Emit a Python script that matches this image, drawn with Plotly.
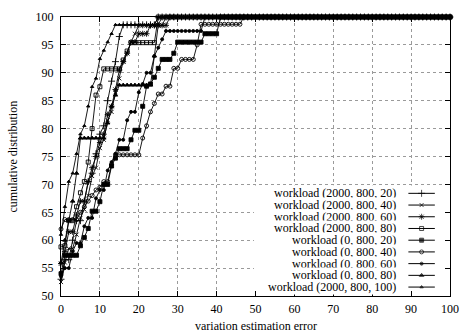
import plotly.graph_objects as go

# error bins (percent), one CDF sample per bin
ERROR = list(range(101))

NAMES = [
    "workload (2000, 800, 20)",
    "workload (2000, 800, 40)",
    "workload (2000, 800, 60)",
    "workload (2000, 800, 80)",
    "workload (0, 800, 20)",
    "workload (0, 800, 40)",
    "workload (0, 800, 60)",
    "workload (0, 800, 80)",
    "workload (2000, 800, 100)",
]

W2000_20 = [
    53.0, 56.5, 56.5, 60.0, 63.5, 63.5, 67.0, 70.5, 72.0, 75.5,
    79.0, 80.5, 85.0, 88.5, 92.0, 96.5, 98.6, 98.6, 98.6, 98.6,
    98.6, 98.6, 98.6, 98.6, 98.6, 100, 100, 100, 100, 100,
    100, 100, 100, 100, 100, 100, 100, 100, 100, 100,
    100, 100, 100, 100, 100, 100, 100, 100, 100, 100,
    100, 100, 100, 100, 100, 100, 100, 100, 100, 100,
    100, 100, 100, 100, 100, 100, 100, 100, 100, 100,
    100, 100, 100, 100, 100, 100, 100, 100, 100, 100,
    100, 100, 100, 100, 100, 100, 100, 100, 100, 100,
    100, 100, 100, 100, 100, 100, 100, 100, 100, 100,
    100,
]
W2000_40 = [
    52.5, 56.0, 58.5, 58.5, 61.0, 64.0, 65.5, 68.0, 71.5, 73.0,
    76.5, 78.0, 81.5, 83.0, 86.5, 89.0, 92.0, 93.5, 95.5, 97.0,
    98.5, 98.5, 98.5, 98.5, 98.5, 98.5, 98.5, 100, 100, 100,
    100, 100, 100, 100, 100, 100, 100, 100, 100, 100,
    100, 100, 100, 100, 100, 100, 100, 100, 100, 100,
    100, 100, 100, 100, 100, 100, 100, 100, 100, 100,
    100, 100, 100, 100, 100, 100, 100, 100, 100, 100,
    100, 100, 100, 100, 100, 100, 100, 100, 100, 100,
    100, 100, 100, 100, 100, 100, 100, 100, 100, 100,
    100, 100, 100, 100, 100, 100, 100, 100, 100, 100,
    100,
]
W2000_60 = [
    55.8, 58.0, 61.5, 61.5, 64.5, 67.0, 67.0, 70.5, 73.0, 75.0,
    77.5, 79.0, 82.5, 84.0, 87.0, 90.5, 92.0, 93.5, 95.5, 95.5,
    97.0, 97.0, 97.0, 98.5, 98.5, 98.5, 98.5, 98.5, 100, 100,
    100, 100, 100, 100, 100, 100, 100, 100, 100, 100,
    100, 100, 100, 100, 100, 100, 100, 100, 100, 100,
    100, 100, 100, 100, 100, 100, 100, 100, 100, 100,
    100, 100, 100, 100, 100, 100, 100, 100, 100, 100,
    100, 100, 100, 100, 100, 100, 100, 100, 100, 100,
    100, 100, 100, 100, 100, 100, 100, 100, 100, 100,
    100, 100, 100, 100, 100, 100, 100, 100, 100, 100,
    100,
]
W2000_80 = [
    58.8, 59.0, 63.5, 63.5, 66.0, 68.5, 70.5, 74.0, 80.0, 86.0,
    87.5, 90.7, 90.7, 90.7, 90.7, 90.7, 92.3, 93.9, 95.4, 95.4,
    95.4, 95.4, 95.4, 95.4, 95.4, 100, 100, 100, 100, 100,
    100, 100, 100, 100, 100, 100, 100, 100, 100, 100,
    100, 100, 100, 100, 100, 100, 100, 100, 100, 100,
    100, 100, 100, 100, 100, 100, 100, 100, 100, 100,
    100, 100, 100, 100, 100, 100, 100, 100, 100, 100,
    100, 100, 100, 100, 100, 100, 100, 100, 100, 100,
    100, 100, 100, 100, 100, 100, 100, 100, 100, 100,
    100, 100, 100, 100, 100, 100, 100, 100, 100, 100,
    100,
]
W0_20 = [
    54.0, 57.3, 57.3, 57.3, 57.3, 59.0, 60.5, 62.1, 65.2, 65.2,
    66.9, 70.0, 70.0, 73.3, 74.7, 76.4, 76.4, 76.4, 78.0, 79.7,
    79.7, 84.0, 87.6, 88.0, 89.2, 90.8, 92.4, 92.4, 92.4, 93.5,
    95.5, 95.5, 95.5, 95.5, 95.5, 95.5, 95.5, 97.0, 97.0, 97.0,
    97.0, 100, 100, 100, 100, 100, 100, 100, 100, 100,
    100, 100, 100, 100, 100, 100, 100, 100, 100, 100,
    100, 100, 100, 100, 100, 100, 100, 100, 100, 100,
    100, 100, 100, 100, 100, 100, 100, 100, 100, 100,
    100, 100, 100, 100, 100, 100, 100, 100, 100, 100,
    100, 100, 100, 100, 100, 100, 100, 100, 100, 100,
    100,
]
W0_40 = [
    62.0, 63.7, 63.7, 63.7, 63.7, 65.0, 66.0, 67.0, 68.0, 69.0,
    69.5, 70.5, 70.5, 73.6, 75.3, 75.3, 75.3, 75.3, 75.3, 75.3,
    75.3, 78.3, 80.5, 83.0, 84.5, 86.2, 86.2, 87.6, 87.6, 90.8,
    90.8, 92.4, 92.4, 92.4, 92.4, 95.0, 98.7, 98.7, 98.7, 98.7,
    98.7, 98.7, 98.7, 98.7, 98.7, 98.7, 98.7, 100, 100, 100,
    100, 100, 100, 100, 100, 100, 100, 100, 100, 100,
    100, 100, 100, 100, 100, 100, 100, 100, 100, 100,
    100, 100, 100, 100, 100, 100, 100, 100, 100, 100,
    100, 100, 100, 100, 100, 100, 100, 100, 100, 100,
    100, 100, 100, 100, 100, 100, 100, 100, 100, 100,
    100,
]
W0_60 = [
    53.5, 55.0, 55.0, 58.0, 59.5, 59.5, 62.5, 64.0, 64.0, 67.5,
    69.0, 69.0, 72.5, 74.0, 75.5, 78.0, 78.0, 81.5, 83.0, 83.0,
    86.5, 88.0, 90.0, 90.0, 93.0, 94.5, 96.0, 97.5, 97.5, 97.5,
    97.5, 97.5, 97.5, 97.5, 97.5, 97.5, 97.5, 100, 100, 100,
    100, 100, 100, 100, 100, 100, 100, 100, 100, 100,
    100, 100, 100, 100, 100, 100, 100, 100, 100, 100,
    100, 100, 100, 100, 100, 100, 100, 100, 100, 100,
    100, 100, 100, 100, 100, 100, 100, 100, 100, 100,
    100, 100, 100, 100, 100, 100, 100, 100, 100, 100,
    100, 100, 100, 100, 100, 100, 100, 100, 100, 100,
    100,
]
W0_80 = [
    56.0, 60.0, 63.5, 67.0, 72.0, 78.3, 78.3, 78.3, 78.3, 78.3,
    78.3, 78.3, 81.0, 84.0, 86.0, 87.8, 87.8, 87.8, 87.8, 87.8,
    87.8, 87.8, 87.8, 87.8, 93.0, 98.6, 100, 100, 100, 100,
    100, 100, 100, 100, 100, 100, 100, 100, 100, 100,
    100, 100, 100, 100, 100, 100, 100, 100, 100, 100,
    100, 100, 100, 100, 100, 100, 100, 100, 100, 100,
    100, 100, 100, 100, 100, 100, 100, 100, 100, 100,
    100, 100, 100, 100, 100, 100, 100, 100, 100, 100,
    100, 100, 100, 100, 100, 100, 100, 100, 100, 100,
    100, 100, 100, 100, 100, 100, 100, 100, 100, 100,
    100,
]
W2000_100 = [
    61.0, 66.0, 70.5, 72.0, 75.5, 79.0, 80.5, 84.0, 87.5, 89.0,
    92.5, 94.0, 95.5, 97.0, 98.6, 98.6, 98.6, 98.6, 98.6, 98.6,
    98.6, 98.6, 98.6, 98.6, 98.6, 100, 100, 100, 100, 100,
    100, 100, 100, 100, 100, 100, 100, 100, 100, 100,
    100, 100, 100, 100, 100, 100, 100, 100, 100, 100,
    100, 100, 100, 100, 100, 100, 100, 100, 100, 100,
    100, 100, 100, 100, 100, 100, 100, 100, 100, 100,
    100, 100, 100, 100, 100, 100, 100, 100, 100, 100,
    100, 100, 100, 100, 100, 100, 100, 100, 100, 100,
    100, 100, 100, 100, 100, 100, 100, 100, 100, 100,
    100,
]

SERIES = [W2000_20, W2000_40, W2000_60, W2000_80, W0_20, W0_40, W0_60, W0_80, W2000_100]
for s in SERIES:
    assert len(s) == len(ERROR)

# gnuplot-like point types 1..9
SYMBOLS = [
    ("cross-thin-open", 5), ("x-thin-open", 4), ("asterisk-open", 5),
    ("square-open", 4), ("square", 4), ("circle-open", 4),
    ("circle", 3), ("triangle-up", 4), ("triangle-up", 3),
]

FONT = "Liberation Serif"

fig = go.Figure()
for ys, (sym, size) in zip(SERIES, SYMBOLS):
    fig.add_trace(go.Scatter(
        x=ERROR, y=ys, mode="lines+markers",
        line=dict(color="black", width=0.9),
        marker=dict(symbol=sym, size=size, color="black",
                    line=dict(color="black", width=0.9)),
        cliponaxis=False, showlegend=False, hoverinfo="skip",
    ))

# key: white box, right-aligned labels, sample line with point on the right
KEY_TOP, KEY_STEP = 68.4, 2.1
KEY_TEXT_X, KEY_LINE_X0, KEY_LINE_X1 = 86.3, 89.3, 96.1
fig.add_shape(type="rect", xref="x", yref="y", x0=49.6, x1=99.4, y0=50.4, y1=69.8,
              fillcolor="white", line=dict(width=0), layer="between")
for i, (name, (sym, size)) in enumerate(zip(NAMES, SYMBOLS)):
    yk = KEY_TOP - i * KEY_STEP
    fig.add_annotation(x=KEY_TEXT_X, y=yk, xref="x", yref="y", text=name,
                       showarrow=False, xanchor="right", yanchor="middle",
                       bgcolor="white", borderpad=0,
                       font=dict(family=FONT, size=12, color="black"))
    xm = (KEY_LINE_X0 + KEY_LINE_X1) / 2
    fig.add_trace(go.Scatter(
        x=[KEY_LINE_X0, xm, KEY_LINE_X1], y=[yk, yk, yk], mode="lines+markers",
        line=dict(color="black", width=1),
        marker=dict(symbol=sym, size=[0, size, 0], color="black",
                    line=dict(color="black", width=1)),
        showlegend=False, hoverinfo="skip",
    ))

axis_common = dict(
    showline=True, linecolor="black", linewidth=1, mirror="allticks",
    ticks="inside", ticklen=5, tickcolor="black", tickwidth=1,
    showgrid=True, gridcolor="#9a9a9a", griddash="dot", gridwidth=1,
    zeroline=False, tickfont=dict(family=FONT, size=12, color="black"),
)
fig.update_xaxes(range=[0, 100], tick0=0, dtick=10, ticklabelstandoff=2, **axis_common)
fig.update_yaxes(range=[50, 100], tick0=50, dtick=5, ticklabelstandoff=4, **axis_common)

fig.add_annotation(text="cumulative distribution", xref="paper", yref="paper",
                   x=0, y=0.5, xshift=-49, xanchor="center", yanchor="middle",
                   textangle=-90, showarrow=False,
                   font=dict(family=FONT, size=12, color="black"))
fig.add_annotation(text="variation estimation error", xref="paper", yref="paper",
                   x=0.5, y=0, yshift=-30, xanchor="center", yanchor="middle",
                   showarrow=False,
                   font=dict(family=FONT, size=12, color="black"))

fig.update_layout(
    width=469, height=335,
    margin=dict(l=61, r=10, t=12, b=39),
    paper_bgcolor="white", plot_bgcolor="white",
)

fig.write_html("out.html")
